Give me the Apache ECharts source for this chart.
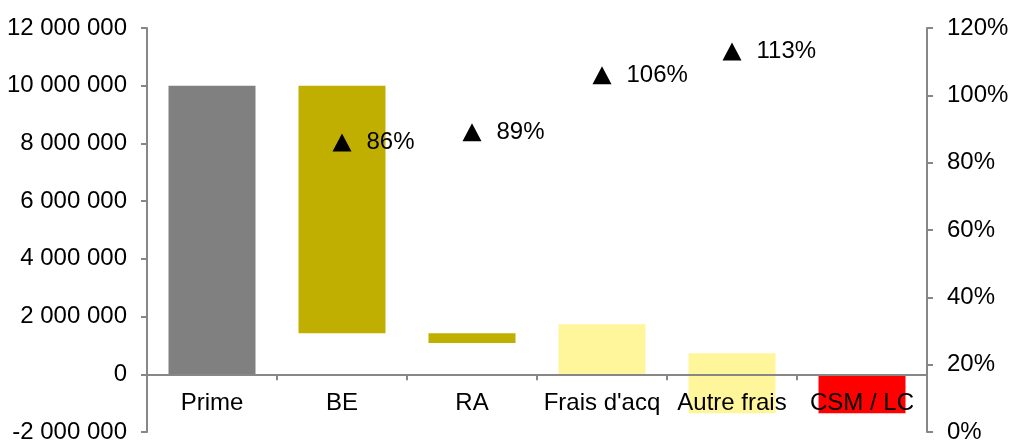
<!DOCTYPE html>
<html>
<head>
<meta charset="utf-8">
<script src="https://cdn.jsdelivr.net/npm/echarts@6/dist/echarts.min.js"></script>
<style>
  html, body { margin: 0; padding: 0; background: #fff; }
  #chart { width: 1011px; height: 442px; }
</style>
</head>
<body>
<div id="chart"></div>
<script>
// Waterfall steps: each bar spans from its low to its high value
const categories = ['Prime', 'BE', 'RA', "Frais d'acq", 'Autre frais', 'CSM / LC'];
const barLow  = [0, 1420000, 1080000, 0, -1350000, -1350000];
const barHigh = [10000000, 10000000, 1420000, 1730000, 730000, 0];
// Cumulative ratio (%) shown with triangles on the right axis
const ratioPct = [null, 86, 89, 106, 113, null];
// Axis ticks
const leftTicks = { min: -2000000, max: 12000000, interval: 2000000 };
const rightTicks = { min: 0, max: 120, interval: 20 };

const barColors = ['#808080', '#C0AF00', '#C0AF00', '#FFF59B', '#FFF59B', '#FF0000'];
const axisGrey = '#878787';
const font = "'Liberation Sans', Arial, sans-serif";
const fontSize = 24;

function spaced(v) {
  const s = Math.abs(v).toString().replace(/\B(?=(\d{3})+(?!\d))/g, ' ');
  return (v < 0 ? '-' : '') + s;
}

const chart = echarts.init(document.getElementById('chart'), null, { renderer: 'canvas' });

chart.setOption({
  animation: false,
  backgroundColor: '#fff',
  grid: { left: 147, right: 84, top: 28, bottom: 10, containLabel: false, outerBoundsMode: 'none' },
  xAxis: {
    type: 'category',
    data: categories,
    z: 5,
    axisLine: { onZero: true, onZeroAxisIndex: 0, lineStyle: { color: axisGrey, width: 2 } },
    axisTick: { show: true, interval: 0, length: 6, alignWithLabel: false, lineStyle: { color: axisGrey, width: 2 } },
    // category names sit just under the zero line
    axisLabel: { interval: 0, color: '#000', fontFamily: font, fontSize: fontSize, margin: -41, hideOverlap: false }
  },
  yAxis: [
    {
      type: 'value',
      min: leftTicks.min, max: leftTicks.max, interval: leftTicks.interval,
      splitLine: { show: false },
      axisLine: { show: true, lineStyle: { color: axisGrey, width: 2 } },
      axisTick: { show: true, length: 6, lineStyle: { color: axisGrey, width: 2 } },
      axisLabel: { color: '#000', fontFamily: font, fontSize: fontSize, margin: 20, formatter: spaced }
    },
    {
      type: 'value',
      position: 'right',
      min: rightTicks.min, max: rightTicks.max, interval: rightTicks.interval,
      splitLine: { show: false },
      axisLine: { show: true, lineStyle: { color: axisGrey, width: 2 } },
      axisTick: { show: true, length: 6, lineStyle: { color: axisGrey, width: 2 } },
      axisLabel: { color: '#000', fontFamily: font, fontSize: fontSize, margin: 20, formatter: '{value}%' }
    }
  ],
  series: [
    {
      name: 'base',
      type: 'bar',
      stack: 'wf',
      stackStrategy: 'all',
      barWidth: 87,
      silent: true,
      itemStyle: { color: 'transparent' },
      data: barLow
    },
    {
      name: 'step',
      type: 'bar',
      stack: 'wf',
      stackStrategy: 'all',
      barWidth: 87,
      data: barHigh.map((h, i) => ({
        value: h - barLow[i],
        itemStyle: { color: barColors[i] }
      }))
    },
    {
      name: 'ratio',
      type: 'line',
      yAxisIndex: 1,
      data: ratioPct,
      symbol: 'triangle',
      symbolSize: [19, 18],
      showSymbol: true,
      itemStyle: { color: '#000' },
      lineStyle: { width: 0, opacity: 0 },
      label: {
        show: true,
        position: 'right',
        distance: 15,
        color: '#000',
        fontFamily: font,
        fontSize: fontSize,
        formatter: p => p.value + '%'
      },
      z: 6
    }
  ]
});
</script>
</body>
</html>
